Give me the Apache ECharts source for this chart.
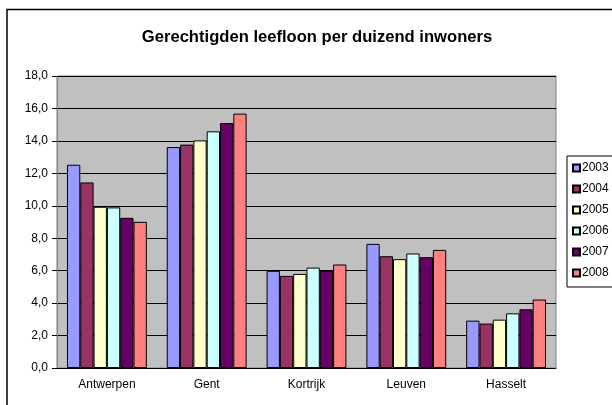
<!DOCTYPE html>
<html>
<head>
<meta charset="utf-8">
<script src="https://cdn.jsdelivr.net/npm/echarts@6/dist/echarts.min.js"></script>
<style>
html,body{margin:0;padding:0;background:#fff;}
#c{width:612px;height:405px;}
</style>
</head>
<body>
<div id="c"></div>
<script>
const categories = ['Antwerpen', 'Gent', 'Kortrijk', 'Leuven', 'Hasselt'];
const years = ['2003', '2004', '2005', '2006', '2007', '2008'];
const v2003 = [12.53, 13.62, 5.99, 7.65, 2.92];
const v2004 = [11.44, 13.77, 5.68, 6.89, 2.74];
const v2005 = [9.94, 14.03, 5.80, 6.71, 2.98];
const v2006 = [9.90, 14.59, 6.19, 7.06, 3.37];
const v2007 = [9.26, 15.10, 5.99, 6.83, 3.62];
const v2008 = [9.01, 15.68, 6.38, 7.28, 4.22];
const seriesValues = [v2003, v2004, v2005, v2006, v2007, v2008];
const colors = ['#9999FF', '#993366', '#FFFFCC', '#CCFFFF', '#660066', '#FF8080'];

const chart = echarts.init(document.getElementById('c'), null, {renderer: 'canvas'});
const font = 'Arial, "Liberation Sans", sans-serif';
chart.setOption({
  animation: false,
  textStyle: {fontFamily: font},
  graphic: [{
    type: 'rect', silent: true, z: -10,
    shape: {x: 7, y: 9.5, width: 700, height: 500},
    style: {fill: 'none', stroke: '#000', lineWidth: 1.5}
  }],
  title: {
    text: 'Gerechtigden leefloon per duizend inwoners',
    left: 312, textAlign: 'center', top: 24,
    textStyle: {fontFamily: font, fontSize: 16.6, fontWeight: 'bold', color: '#000'}
  },
  legend: {
    orient: 'vertical', left: 567, top: 156,
    padding: [6, 10, 8, 5],
    itemGap: 9, itemWidth: 7, itemHeight: 7, icon: 'rect',
    borderColor: '#000', borderWidth: 1,
    textStyle: {fontFamily: font, fontSize: 12, color: '#000', padding: [0, 0, 0, -3]},
    data: years
  },
  grid: {
    left: 57, top: 76, right: 56, bottom: 37,
    show: true, backgroundColor: '#C0C0C0', borderColor: '#808080', borderWidth: 1
  },
  xAxis: {
    type: 'category', data: categories,
    axisLine: {lineStyle: {color: '#000'}},
    axisTick: {length: 4, lineStyle: {color: '#000'}},
    axisLabel: {fontFamily: font, fontSize: 12, color: '#000', margin: 11}
  },
  yAxis: {
    type: 'value', min: 0, max: 18, interval: 2,
    axisLine: {show: true, lineStyle: {color: '#808080'}},
    axisTick: {show: true, length: 5, lineStyle: {color: '#000'}},
    axisLabel: {fontFamily: font, fontSize: 12, color: '#000', margin: 9,
      formatter: v => v.toFixed(1).replace('.', ',')},
    splitLine: {lineStyle: {color: '#000', width: 1}}
  },
  series: years.map((y, i) => ({
    name: y, type: 'bar', data: seriesValues[i],
    barGap: '0%', barCategoryGap: '20%',
    itemStyle: {color: colors[i], borderColor: '#000', borderWidth: 1}
  }))
});
</script>
</body>
</html>
